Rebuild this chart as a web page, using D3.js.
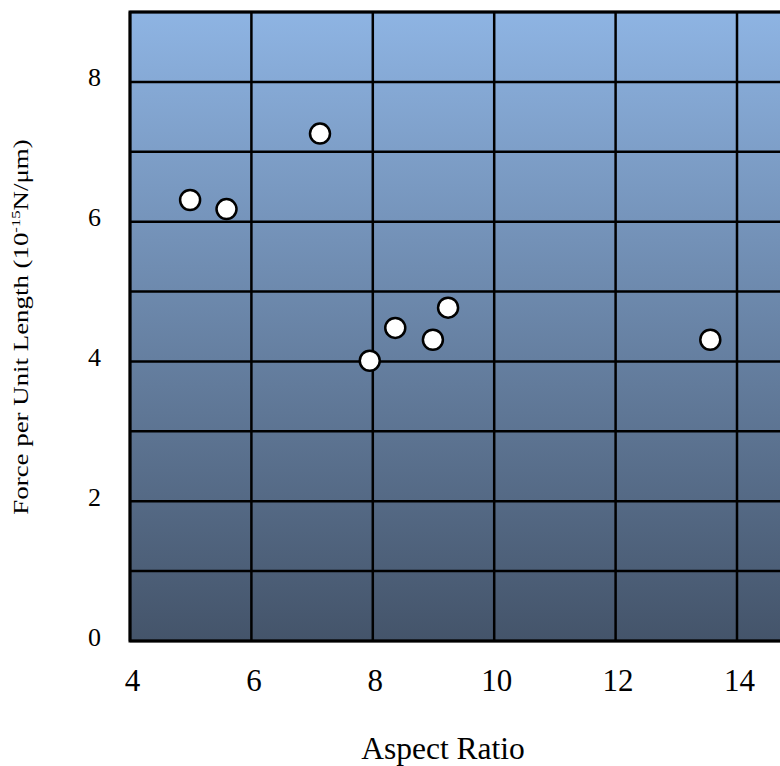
<!DOCTYPE html>
<html>
<head>
<meta charset="utf-8">
<script src="https://cdn.jsdelivr.net/npm/d3@7"></script>
<style>
  html, body { margin: 0; padding: 0; background: #ffffff; }
  svg { display: block; }
  text { font-family: "Liberation Serif", "Times New Roman", serif; fill: #000; }
</style>
</head>
<body>
<script>
// Measured force per unit length against aspect ratio
const aspectRatio = [4.99, 5.59, 7.13, 7.95, 8.37, 8.99, 9.24, 13.56];
const forcePerLength = [6.31, 6.18, 7.26, 4.01, 4.48, 4.31, 4.77, 4.31];

const xTicks = [4, 6, 8, 10, 12, 14];
const yTicks = [0, 2, 4, 6, 8];
const xGrid = [4, 6, 8, 10, 12, 14, 16];
const yGrid = [0, 1, 2, 3, 4, 5, 6, 7, 8, 9];

const W = 780, H = 766;
const plotLeft = 130, plotTop = 12, plotBottom = 641;
const serif = "'Liberation Serif', 'Times New Roman', serif";

const x = d3.scaleLinear().domain([4, 16]).range([plotLeft, plotLeft + 12 * 60.7]);
const y = d3.scaleLinear().domain([0, 9]).range([plotBottom, plotTop]);

const svg = d3.select("body").append("svg").attr("width", W).attr("height", H);

const defs = svg.append("defs");
const grad = defs.append("linearGradient")
  .attr("id", "plotFill").attr("x1", 0).attr("y1", 0).attr("x2", 0).attr("y2", 1);
grad.append("stop").attr("offset", "0%").attr("stop-color", "#8eb4e3");
grad.append("stop").attr("offset", "100%").attr("stop-color", "#44546a");

// Plot area background
svg.append("rect")
  .attr("x", x(4)).attr("y", y(9))
  .attr("width", x(16) - x(4)).attr("height", y(0) - y(9))
  .attr("fill", "url(#plotFill)");

// Grid
const grid = svg.append("g").attr("stroke", "#000").attr("stroke-width", 2.5);
grid.selectAll("line.h").data(yGrid).join("line")
  .attr("class", "h")
  .attr("x1", x(4)).attr("x2", x(16))
  .attr("y1", d => y(d)).attr("y2", d => y(d));
grid.selectAll("line.v").data(xGrid).join("line")
  .attr("class", "v")
  .attr("x1", d => x(d)).attr("x2", d => x(d))
  .attr("y1", y(0)).attr("y2", y(9));

// Plot border
svg.append("rect")
  .attr("x", x(4)).attr("y", y(9))
  .attr("width", x(16) - x(4)).attr("height", y(0) - y(9))
  .attr("fill", "none").attr("stroke", "#000").attr("stroke-width", 3);

// Axes (labels only)
const xAxis = svg.append("g")
  .attr("transform", `translate(2,${plotBottom + 50})`)
  .call(d3.axisBottom(x).tickValues(xTicks).tickSize(0).tickPadding(0));
xAxis.select(".domain").remove();
xAxis.selectAll("text").attr("font-size", 31).attr("dy", 0)
  .style("font-family", serif);

const yAxis = svg.append("g")
  .attr("transform", `translate(${plotLeft - 29},0)`)
  .call(d3.axisLeft(y).tickValues(yTicks).tickSize(0).tickPadding(0));
yAxis.select(".domain").remove();
yAxis.selectAll("text").attr("font-size", 26).attr("dy", 4)
  .style("font-family", serif);

// Points
svg.append("g").selectAll("circle")
  .data(aspectRatio.map((a, i) => [a, forcePerLength[i]]))
  .join("circle")
  .attr("cx", d => x(d[0])).attr("cy", d => y(d[1]))
  .attr("r", 10)
  .attr("fill", "#fff").attr("stroke", "#000").attr("stroke-width", 2.5);

// Axis titles
svg.append("text")
  .attr("x", 443).attr("y", 759)
  .attr("text-anchor", "middle").attr("font-size", 31.5)
  .text("Aspect Ratio");

const yt = svg.append("text")
  .attr("transform", "translate(28,327) rotate(-90) scale(1.28,1)")
  .attr("text-anchor", "middle").attr("font-size", 21);
yt.append("tspan").text("Force per Unit Length (10");
yt.append("tspan").attr("font-size", 13).attr("dy", -8).text("-15");
yt.append("tspan").attr("dy", 8).text("N/\u03bcm)");
</script>
</body>
</html>
